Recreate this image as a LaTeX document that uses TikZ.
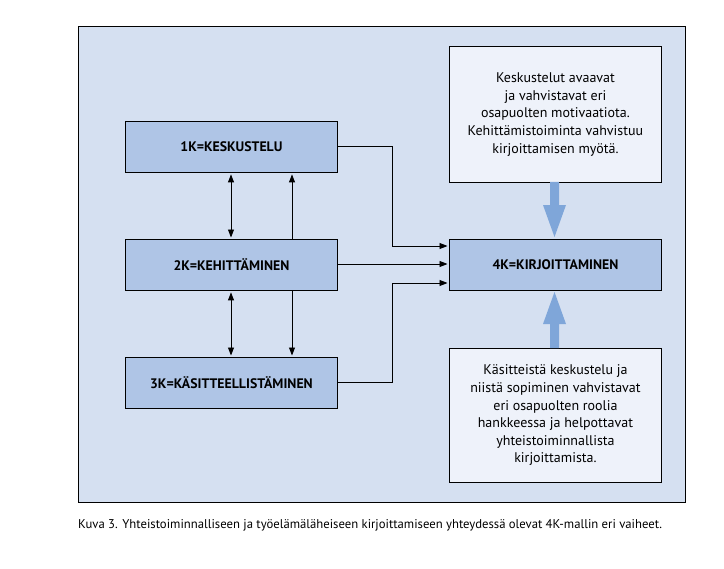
\documentclass[tikz,border=0pt]{standalone}
\usepackage{fontspec}
\setmainfont{PT Sans}
\usetikzlibrary{arrows.meta}
\definecolor{panel}{HTML}{D5E0F1}
\definecolor{kbox}{HTML}{AFC5E6}
\definecolor{tbox}{HTML}{EEF2FA}
\definecolor{barrow}{HTML}{7FA6D9}
\tikzset{
  kstep/.style={draw=black, line width=0.9bp, fill=kbox, minimum width=212bp, minimum height=51bp, inner sep=0pt, font=\fontsize{13.8bp}{16bp}\selectfont\bfseries, anchor=north west},
  tnote/.style={draw=black, line width=0.9bp, fill=tbox, minimum width=212bp, inner sep=0pt, align=center, font=\fontsize{14bp}{17.6bp}\selectfont, anchor=north west},
  conn/.style={line width=0.9bp, -{Triangle[length=8bp,width=6bp]}, shorten >=1.5bp},
  conn2/.style={line width=0.9bp, {Triangle[length=8bp,width=6bp]}-{Triangle[length=8bp,width=6bp]}, shorten >=1.5bp, shorten <=1.5bp},
}
\begin{document}
\begin{tikzpicture}[x=1bp,y=-1bp]
\useasboundingbox (0,0) rectangle (724,569);
\fill[white] (0,0) rectangle (724,569);
\node[draw=black, line width=0.9bp, fill=panel, minimum width=607bp, minimum height=476bp, anchor=north west, inner sep=0pt] (panel) at (77.5,26) {};
\node[kstep] (k1) at (125,121) {1K=KESKUSTELU};
\node[kstep] (k2) at (125,239) {2K=KEHITTÄMINEN};
\node[kstep] (k3) at (125,357) {3K=KÄSITTEELLISTÄMINEN};
\node[kstep] (k4) at (449,239) {4K=KIRJOITTAMINEN};
\node[tnote, minimum height=136bp] (t1) at (449,46) {Keskustelut avaavat\\ja vahvistavat eri\\osapuolten motivaatiota.\\Kehittämistoiminta vahvistuu\\kirjoittamisen myötä.};
\node[tnote, minimum height=134bp] (t2) at (449,348) {Käsitteistä keskustelu ja\\niistä sopiminen vahvistavat\\eri osapuolten roolia\\hankkeessa ja helpottavat\\yhteistoiminnallista\\kirjoittamista.};
% vertical arrows
\draw[conn2] (k1.south -| 231,0) -- (k2.north -| 231,0);
\draw[conn] (k2.north -| 292,0) -- (k1.south -| 292,0);
\draw[conn2] (k2.south -| 231,0) -- (k3.north -| 231,0);
\draw[conn] (k2.south -| 292,0) -- (k3.north -| 292,0);
% to 4K
\coordinate (j1) at (392,146);
\coordinate (j3) at (392,382);
\draw[conn] (k1.east |- j1) -- (j1) |- (k4.west |- 0,246);
\draw[conn] (k2.east |- 0,264) -- (k4.west |- 0,264);
\draw[conn] (k3.east |- j3) -- (j3) |- (k4.west |- 0,283);
% blue arrows
\fill[barrow] (550,182) -- (559,182) -- (559,205) -- (566,205) -- (554.5,237) -- (543,205) -- (550,205) -- cycle;
\fill[barrow] (550,348) -- (559,348) -- (559,324) -- (566,324) -- (554.5,292) -- (543,324) -- (550,324) -- cycle;
\node[anchor=west, inner sep=0pt, font=\fontsize{12.7bp}{14bp}\selectfont] (cap) at (78,525) {Kuva 3. Yhteistoiminnalliseen ja työelämäläheiseen kirjoittamiseen yhteydessä olevat 4K-mallin eri vaiheet.};
\end{tikzpicture}
\end{document}
